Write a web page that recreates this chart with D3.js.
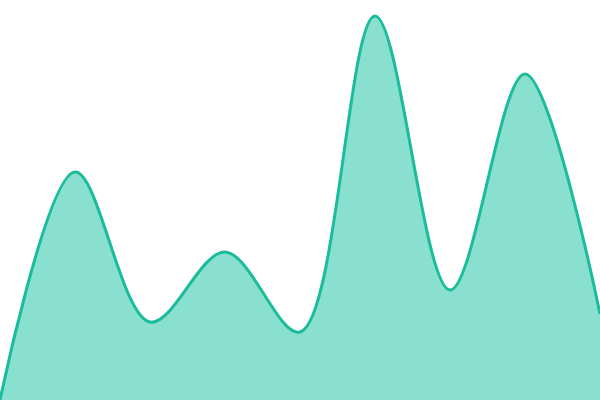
<!DOCTYPE html>
<html>
<head>
<meta charset="utf-8">
<script src="https://cdn.jsdelivr.net/npm/d3@7"></script>
<style>
  html, body { margin: 0; padding: 0; background: #fff; }
  svg { display: block; }
</style>
</head>
<body>
<svg id="chart" width="600" height="400"></svg>
<script>
// data
var steps = [0, 1, 2, 3, 4, 5, 6, 7, 8];
var values = [0, 57, 19.5, 37, 17, 96, 27.5, 81.5, 21.5];

var width = 600, height = 400;

var x = d3.scaleLinear().domain([0, 8]).range([0, width]);
var y = d3.scaleLinear().domain([0, 100]).range([height, 0]);

var data = steps.map(function(s, i) { return { s: s, v: values[i] }; });

var svg = d3.select("#chart");

// filled area
var area = d3.area()
  .curve(d3.curveCatmullRom)
  .x(function(d) { return x(d.s); })
  .y0(height)
  .y1(function(d) { return y(d.v); });

svg.append("path")
  .datum(data)
  .attr("d", area)
  .attr("fill", "#89e0cf");

// top line
var line = d3.line()
  .curve(d3.curveCatmullRom)
  .x(function(d) { return x(d.s); })
  .y(function(d) { return y(d.v); });

svg.append("path")
  .datum(data)
  .attr("d", line)
  .attr("fill", "none")
  .attr("stroke", "#1abc9c")
  .attr("stroke-width", 3);
</script>
</body>
</html>
